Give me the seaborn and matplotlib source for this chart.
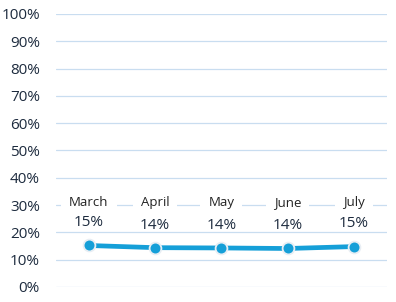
import matplotlib
matplotlib.use("Agg")
import matplotlib.pyplot as plt
import seaborn as sns
import pandas as pd

months = ["March", "April", "May", "June", "July"]
values = [15.2, 14.4, 14.3, 14.1, 14.8]
value_labels = ["15%", "14%", "14%", "14%", "15%"]
yticks = list(range(0, 101, 10))
ytick_labels = [f"{t}%" for t in yticks]

sns.set_style("white")
plt.rcParams['font.family'] = ['Open Sans', 'DejaVu Sans']

df = pd.DataFrame({"month": months, "value": values})
fig = plt.figure(figsize=(3.96, 3.02), dpi=100)
ax = fig.add_axes([0.141, 0.0497, 0.836, 0.904])

txt = "#1d2b3e"
line_c = "#159fd8"
grid_c = "#c9ddf0"

ax.set_ylim(0, 100)
ax.set_xlim(-0.5, 4.5)
ax.set_yticks(yticks)
ax.set_yticklabels(ytick_labels, color=txt, fontsize=11)
ax.yaxis.grid(True, color=grid_c, linewidth=0.9)
ax.set_axisbelow(True)
ax.tick_params(axis='y', length=0, pad=11.5)
for s in ax.spines.values():
    s.set_visible(False)

sns.lineplot(data=df, x="month", y="value", ax=ax, color=line_c, linewidth=3.4,
             marker="o", markersize=8.5, markeredgecolor="#e8eef4", markeredgewidth=1.3,
             sort=False)
ax.set_xticks([])
ax.set_xlabel("")
ax.set_ylabel("")

for i, (m, v, lab) in enumerate(zip(months, values, value_labels)):
    ax.text(i, 31, m, ha="center", va="center", color="#222222", fontsize=9.5,
            bbox=dict(facecolor="white", edgecolor="none", boxstyle="square,pad=0.6"))
    ax.text(i, v + 8.3, lab, ha="center", va="center", color=txt, fontsize=11)

fig.savefig("out.png", dpi=100)
